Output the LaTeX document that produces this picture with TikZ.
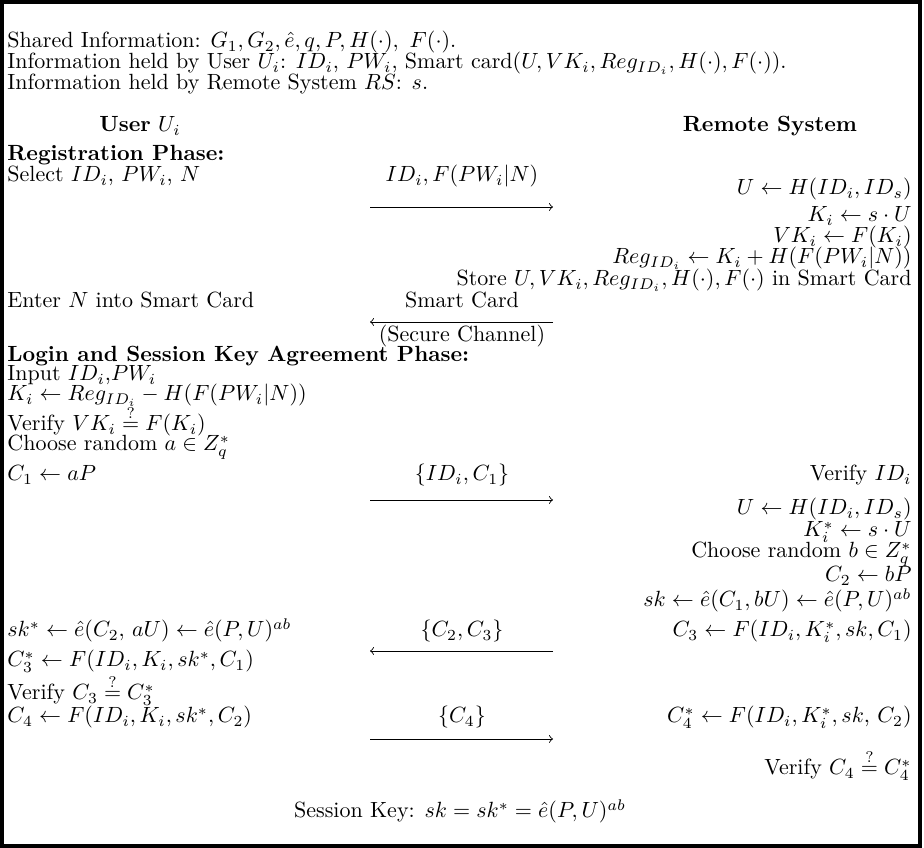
\documentclass[tikz,border=0pt]{standalone}
\usepackage{amsmath,amssymb}
\begin{document}
\begin{tikzpicture}[x=0.4545pt,y=-0.4545pt,
  lft/.style={anchor=base west,inner sep=0pt},
  rgt/.style={anchor=base east,inner sep=0pt},
  mid/.style={anchor=base,inner sep=0pt},
  hdr/.style={anchor=base,inner sep=0pt},
  msgarrow/.style={->,line width=0.4pt},
  frame/.style={line width=1.8pt}]
\useasboundingbox (0,0) rectangle (924,848);
\draw[frame] (2,2) rectangle (920,846);
% shared info
\node[lft] (l1) at (7,48) {Shared Information: $G_1, G_2, \hat{e}, q, P, H(\cdot),\ F(\cdot)$.};
\node[lft] (l2) at (7,69) {Information held by User $U_i$: $ID_i$, $PW_i$, Smart card$(U, VK_i, Reg_{ID_i}, H(\cdot), F(\cdot))$.};
\node[lft] (l3) at (7,90) {Information held by Remote System $RS$: $s$.};
% headers
\node[hdr] (hu) at (140,132) {\textbf{User} $U_i$};
\node[hdr] (hr) at (770,132) {\textbf{Remote System}};
% registration
\node[lft] (rp) at (7,161) {\bfseries Registration Phase:};
\node[lft] (sel) at (7,182) {Select $ID_i$, $PW_i$, $N$};
\node[mid] (m1) at (462,182) {$ID_i, F(PW_i|N)$};
\coordinate (a1s) at (370,207);
\coordinate (a1e) at (553,207);
\draw[msgarrow] (a1s) -- (a1e);
\node[rgt] (r1) at (912,195) {$U \leftarrow H(ID_i, ID_s)$};
\node[rgt] (r2) at (912,222) {$K_i \leftarrow s\cdot U$};
\node[rgt] (r3) at (912,243) {$VK_i \leftarrow F(K_i)$};
\node[rgt] (r4) at (912,264) {$Reg_{ID_i} \leftarrow K_i + H(F(PW_i|N))$};
\node[rgt] (r5) at (912,286) {Store $U, VK_i, Reg_{ID_i}, H(\cdot), F(\cdot)$ in Smart Card};
\node[lft] (ent) at (7,308) {Enter $N$ into Smart Card};
\node[mid] (m2) at (462,308) {Smart Card};
\coordinate (a2s) at (553,322);
\coordinate (a2e) at (370,322);
\draw[msgarrow] (a2s) -- (a2e);
\node[mid] (m2b) at (462,342) {(Secure Channel)};
% login
\node[lft] (lp) at (7,362) {\bfseries Login and Session Key Agreement Phase:};
\node[lft] (u1) at (7,381) {Input $ID_i$,$PW_i$};
\node[lft] (u2) at (7,401) {$K_i \leftarrow Reg_{ID_i} - H(F(PW_i|N))$};
\node[lft] (u3) at (7,431) {Verify $VK_i \stackrel{?}{=} F(K_i)$};
\node[lft] (u4) at (7,451) {Choose random $a \in Z_q^*$};
\node[lft] (u5) at (7,481) {$C_1 \leftarrow aP$};
\node[mid] (m3) at (462,481) {$\{ID_i, C_1\}$};
\coordinate (a3s) at (370,500);
\coordinate (a3e) at (553,500);
\draw[msgarrow] (a3s) -- (a3e);
\node[rgt] (s1) at (912,481) {Verify $ID_i$};
\node[rgt] (s2) at (912,515) {$U \leftarrow H(ID_i, ID_s)$};
\node[rgt] (s3) at (912,537) {$K_i^* \leftarrow s\cdot U$};
\node[rgt] (s4) at (912,558) {Choose random $b \in Z_q^*$};
\node[rgt] (s5) at (912,582) {$C_2 \leftarrow bP$};
\node[rgt] (s6) at (912,607) {$sk \leftarrow \hat{e}(C_1, bU) \leftarrow \hat{e}(P,U)^{ab}$};
\node[rgt] (s7) at (912,637) {$C_3 \leftarrow F(ID_i, K_i^*, sk, C_1)$};
\node[lft] (u6) at (7,637) {$sk^* \leftarrow \hat{e}(C_2,\, aU) \leftarrow \hat{e}(P,U)^{ab}$};
\node[mid] (m4) at (462,637) {$\{C_2, C_3\}$};
\coordinate (a4s) at (553,651);
\coordinate (a4e) at (370,651);
\draw[msgarrow] (a4s) -- (a4e);
\node[lft] (u7) at (7,667) {$C_3^* \leftarrow F(ID_i, K_i, sk^*, C_1)$};
\node[lft] (u8) at (7,700) {Verify $C_3 \stackrel{?}{=} C_3^*$};
\node[lft] (u9) at (7,723) {$C_4 \leftarrow F(ID_i, K_i, sk^*, C_2)$};
\node[mid] (m5) at (462,723) {$\{C_4\}$};
\coordinate (a5s) at (370,739);
\coordinate (a5e) at (553,739);
\draw[msgarrow] (a5s) -- (a5e);
\node[rgt] (s8) at (912,723) {$C_4^* \leftarrow F(ID_i, K_i^*, sk,\, C_2)$};
\node[rgt] (s9) at (912,775) {Verify $C_4 \stackrel{?}{=} C_4^*$};
\node[mid] (sk) at (460,818) {Session Key: $sk = sk^* = \hat{e}(P,U)^{ab}$};
\end{tikzpicture}
\end{document}
